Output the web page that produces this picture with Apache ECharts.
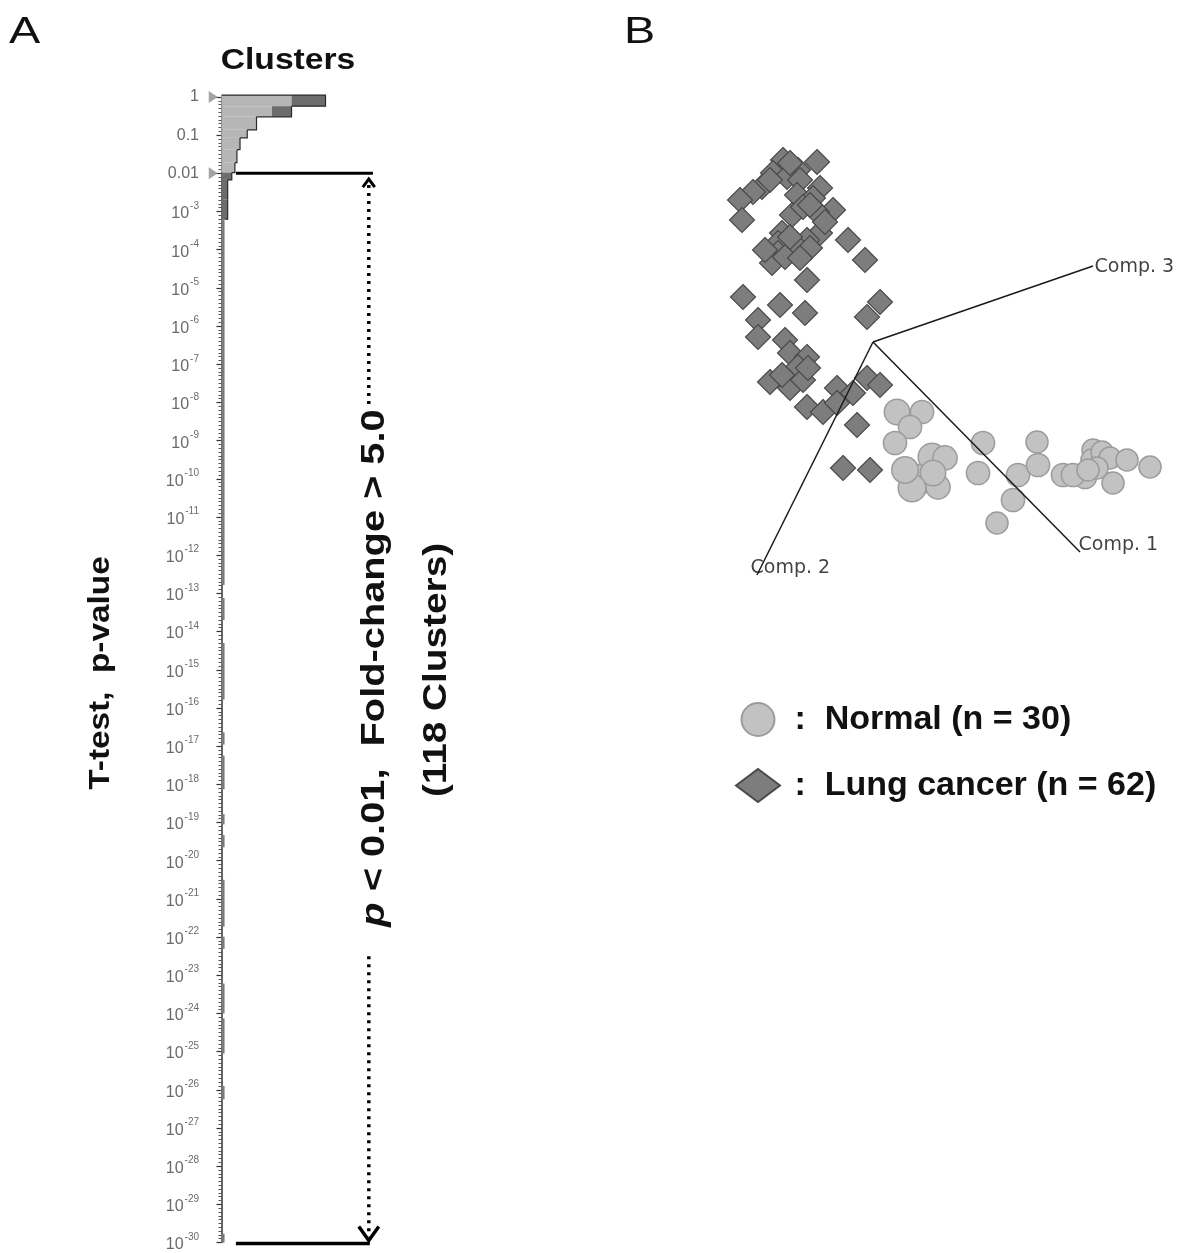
<!DOCTYPE html>
<html><head><meta charset="utf-8">
<script src="https://cdn.jsdelivr.net/npm/echarts@6/dist/echarts.min.js"></script>
<style>html,body{margin:0;padding:0;background:#fff}#c{width:1185px;height:1253px}</style>
</head><body><div id="c"></div>
<script>
// ---------- Panel A : histogram of T-test p-values (log10 p bins) ----------
const binUpper = [0.05, -0.24, -0.52, -0.86, -1.07, -1.38, -1.72, -1.98, -2.17, -2.69, -3.2, -13.12, -14.3, -16.64, -17.25, -18.78, -19.33, -20.5, -21.99, -23.22, -24.13, -25.9, -29.77];
const binLower = [-0.24, -0.52, -0.86, -1.07, -1.38, -1.72, -1.98, -2.17, -2.69, -3.2, -12.78, -13.7, -15.78, -16.96, -18.13, -19.05, -19.65, -21.73, -22.31, -24.0, -25.05, -26.25, -30];
const lightCounts = [68, 49, 34, 25, 18, 15, 13, 0, 0, 0, 0, 0, 0, 0, 0, 0, 0, 0, 0, 0, 0, 0, 0];
const darkCounts  = [33, 19, 0, 0, 0, 0, 0, 10, 6, 6, 3, 3, 3, 3, 3, 3, 3, 3, 3, 3, 3, 3, 3];
const markerLogs = [0, -2];          // grey triangles at p = 1 and p = 0.01
const thresholdLog = -2;             // p < 0.01
const minLog = -30, maxLog = 0;      // axis range 10^-30 .. 1
const tickLabelsTop = {'0': '1', '-1': '0.1', '-2': '0.01'};

// ---------- Panel B : 3D PCA projection ----------
const normalPoints = [
  [0.48,-1.40,0.4],[0.98,-1.40,0.2],[0.74,-1.70,0.2],[0.44,-2.02,0.2],[1.18,-2.30,0.6],
  [1.44,-2.32,0.3],[0.88,-2.76,0.9],[1.30,-2.90,0.3],[1.20,-2.62,0.4],[2.20,-2.02,0.2],
  [2.10,-2.62,0.2],[2.48,-3.62,0.1],[2.80,-3.16,0.2],[2.90,-2.66,0.2],[3.28,-2.00,0.1],
  [3.30,-2.46,0.2],[3.80,-2.66,0.2],[4.24,-2.70,0.2],[4.40,-2.16,0.1],[4.38,-2.36,0.1],
  [4.58,-2.20,0.1],[4.74,-2.32,0.1],[4.80,-2.82,0.1],[5.08,-2.36,0.1],[5.54,-2.50,0.1],
  [4.48,-2.52,0.1],[4.00,-2.66,0.2],[0.78,-2.92,0.6],[4.30,-2.56,0.1],[0.64,-2.56,0.5]
];
const cancerPoints = [
  [-1.80,3.64],[-1.12,3.60],[-1.50,3.44],[-2.00,3.38],[-1.72,3.30],[-1.46,3.24],[-2.22,3.10],
  [-2.40,3.00],[-2.66,2.84],[-1.06,3.08],[-1.52,2.94],[-1.20,2.88],[-0.80,2.64],[-1.62,2.54],
  [-1.12,2.60],[-2.62,2.44],[-1.40,2.70],[-1.82,2.18],[-1.06,2.18],[-1.90,1.98],[-1.32,2.04],
  [-1.52,1.90],[-1.90,1.78],[-2.02,1.58],[-1.76,1.70],[-1.26,1.88],[-0.50,2.04],[-0.16,1.64],
  [-1.32,1.24],[-2.60,0.90],[-1.86,0.74],[-1.36,0.58],[0.14,0.80],[-0.12,0.50],[-2.30,0.44],
  [-2.30,0.10],[-1.76,0.04],[-1.66,-0.22],[-1.32,-0.30],[-1.50,-0.50],[-2.06,-0.80],[-1.66,-0.92],
  [-1.40,-0.76],[-1.32,-1.30],[-1.00,-1.40],[-0.72,-0.92],[-0.72,-1.22],[-0.40,-1.02],[-0.12,-0.72],
  [0.14,-0.86],[-0.32,-1.66],[-0.60,-2.52],[-0.06,-2.56],[-1.30,-0.52],[-1.66,3.58],[-1.26,2.74],
  [-2.16,1.84],[-1.66,2.10],[-1.46,1.68],[-0.96,2.40],[-1.82,-0.66],[-2.06,3.24]
];
const compAxes = [
  {name: 'Comp. 1', end: [4.14, -4.20]},
  {name: 'Comp. 2', end: [-2.32, -4.66]},
  {name: 'Comp. 3', end: [4.40, 1.52]}
];
const seriesNames = ['Normal (n = 30)', 'Lung cancer (n = 62)'];

// ---------- layout / style constants ----------
const annot = {lineX0: 14, lineX1: 147, bottomX1: 144, arrowX: 143, upperDots: [-2.15, -8.05], lowerDots: [-22.5, -29.95]};
const compLabelOffsets = {'Comp. 1': [-2, -7], 'Comp. 2': [-7, -7], 'Comp. 3': [1, 1]};
const FONT = '"Liberation Sans", Arial, sans-serif';
const TICK_COLOR = '#6a6a6a';

const chart = echarts.init(document.getElementById('c'), null, {renderer: 'canvas'});

function tickLabel(v) {
  const k = String(Math.round(v));
  if (tickLabelsTop[k] !== undefined) return '{p|' + tickLabelsTop[k] + '}';
  return '{b|10}{s|' + k + '}';
}

const histData = binUpper.map((u, i) => [u, binLower[i], lightCounts[i], darkCounts[i]]);

function bigText(x, y, rot, text, size, scaleX, rich) {
  return {type: 'text', x, y, rotation: rot, scaleX,
    style: {text, fontSize: size, fontWeight: 'bold', fontFamily: FONT, fill: '#111', align: 'center', verticalAlign: 'middle', rich}};
}

const option = {
  backgroundColor: '#fff',
  animation: false,
  grid: [
    {left: 205, top: 97, width: 171, height: 1150},
    {left: 700, top: 140, width: 480, height: 460}
  ],
  xAxis: [
    {gridIndex: 0, type: 'value', min: -16, max: 150, show: false},
    {gridIndex: 1, type: 'value', min: -3.46, max: 6.14, show: false}
  ],
  yAxis: [
    {gridIndex: 0, type: 'value', min: minLog, max: maxLog, interval: 1,
     axisLine: {show: true, lineStyle: {color: '#333', width: 1.5}},
     axisTick: {show: true, length: 5, lineStyle: {color: '#333', width: 1.2}},
     minorTick: {show: true, splitNumber: 10, length: 3, lineStyle: {color: '#555'}},
     splitLine: {show: false},
     axisLabel: {margin: 6, color: TICK_COLOR, fontSize: 16, fontFamily: FONT,
       formatter: tickLabel,
       rich: {p: {fontSize: 16, color: TICK_COLOR, fontFamily: FONT},
              b: {fontSize: 16, color: TICK_COLOR, fontFamily: FONT, lineHeight: 21, verticalAlign: 'bottom'},
              s: {fontSize: 10, color: TICK_COLOR, fontFamily: FONT, lineHeight: 21, verticalAlign: 'top', padding: [0, 0, 0, 1]}}}
    },
    {gridIndex: 1, type: 'value', min: -5.16, max: 4.04, show: false}
  ],
  legend: {
    data: [seriesNames[0], {name: seriesNames[1], icon: 'path://M0,15 L20,0 L40,15 L20,30 Z'}],
    orient: 'vertical', left: 730, top: 697,
    itemWidth: 44, itemHeight: 33, itemGap: 31,
    formatter: n => ' :  ' + n,
    textStyle: {fontSize: 34, fontWeight: 'bold', color: '#111', fontFamily: FONT}
  },
  graphic: [
    {type: 'text', left: 9, top: 15, scaleX: 1.3, style: {text: 'A', fontSize: 36, fontFamily: FONT, fill: '#111'}},
    {type: 'text', left: 624, top: 15, scaleX: 1.3, style: {text: 'B', fontSize: 36, fontFamily: FONT, fill: '#111'}},
    bigText(288, 61, 0, 'Clusters', 29, 1.16),
    bigText(101, 673, Math.PI / 2, 'T-test,  p-value', 29, 1.15),
    bigText(375, 668, Math.PI / 2, '{i|p} < 0.01,  Fold-change > 5.0', 34, 1.17,
      {i: {fontStyle: 'italic', fontSize: 34, fontWeight: 'bold', fontFamily: FONT, fill: '#111'}}),
    bigText(437, 670, Math.PI / 2, '(118 Clusters)', 34, 1.14)
  ],
  series: [
    {
      type: 'custom', xAxisIndex: 0, yAxisIndex: 0, silent: true, clip: false,
      data: histData,
      renderItem: (params, api) => {
        const i = params.dataIndex;
        const up = api.value(0), lo = api.value(1), light = api.value(2), dark = api.value(3);
        const total = light + dark;
        const a = api.coord([0, up]);
        const b = api.coord([light, lo]);
        const c = api.coord([total, lo]);
        const children = [];
        if (light > 0) children.push({type: 'rect', shape: {x: a[0], y: a[1], width: b[0] - a[0], height: b[1] - a[1]}, style: {fill: '#b6b6b6'}});
        if (dark > 0) children.push({type: 'rect', shape: {x: b[0], y: a[1], width: c[0] - b[0], height: b[1] - a[1]}, style: {fill: i < 10 ? '#6c6c6c' : '#7a7a7a'}});
        if (i < 10) {
          const pts = [];
          if (i === 0) pts.push(api.coord([0, up]));
          pts.push(api.coord([total, up]));
          pts.push(api.coord([total, lo]));
          if (i + 1 < 11) pts.push(api.coord([lightCounts[i + 1] + darkCounts[i + 1], lo]));
          children.push({type: 'polyline', shape: {points: pts}, style: {stroke: '#2a2a2a', lineWidth: 1.2, fill: null}});
        }
        return {type: 'group', children};
      },
      markLine: {
        silent: true, symbol: 'none', animation: false,
        lineStyle: {color: '#555', width: 1.5, type: 'solid'}, label: {show: false},
        data: [[{coord: [0, maxLog + 0.05]}, {coord: [0, minLog]}]]
      }
    },
    {
      type: 'scatter', xAxisIndex: 0, yAxisIndex: 0, silent: true, clip: false,
      data: markerLogs.map(v => [-8, v]),
      symbol: 'triangle', symbolRotate: -90, symbolSize: [12, 9],
      itemStyle: {color: '#8c8c8c'}
    },
    {
      type: 'custom', xAxisIndex: 0, yAxisIndex: 0, silent: true, clip: false,
      data: [[0, 0]],
      renderItem: (params, api) => {
        const t0 = api.coord([annot.lineX0, thresholdLog]), t1 = api.coord([annot.lineX1, thresholdLog]);
        const m0 = api.coord([annot.lineX0, minLog]), m1 = api.coord([annot.bottomX1, minLog]);
        const u0 = api.coord([annot.arrowX, annot.upperDots[0]]), u1 = api.coord([annot.arrowX, annot.upperDots[1]]);
        const l0 = api.coord([annot.arrowX, annot.lowerDots[0]]), l1 = api.coord([annot.arrowX, annot.lowerDots[1]]);
        const dot = {stroke: '#000', lineWidth: 3.5, lineDash: [3, 5]};
        return {type: 'group', children: [
          {type: 'line', shape: {x1: t0[0], y1: t0[1], x2: t1[0], y2: t1[1]}, style: {stroke: '#000', lineWidth: 3}},
          {type: 'line', shape: {x1: m0[0], y1: m0[1] + 1, x2: m1[0], y2: m1[1] + 1}, style: {stroke: '#000', lineWidth: 3.5}},
          {type: 'line', shape: {x1: u0[0], y1: u0[1] + 6, x2: u1[0], y2: u1[1]}, style: dot},
          {type: 'line', shape: {x1: l0[0], y1: l0[1], x2: l1[0], y2: l1[1] - 4}, style: dot},
          {type: 'polyline', shape: {points: [[u0[0] - 6, u0[1] + 8], [u0[0], u0[1]], [u0[0] + 6, u0[1] + 8]]}, style: {stroke: '#000', lineWidth: 3, fill: null}},
          {type: 'polyline', shape: {points: [[l1[0] - 10, l1[1] - 14], [l1[0], l1[1]], [l1[0] + 10, l1[1] - 14]]}, style: {stroke: '#000', lineWidth: 3.5, fill: null}}
        ]};
      }
    },
    {
      name: seriesNames[1], type: 'scatter', xAxisIndex: 1, yAxisIndex: 1, z: 2,
      data: cancerPoints, symbol: 'diamond', symbolSize: 25,
      itemStyle: {color: '#7d7d7d', borderColor: '#4a4a4a', borderWidth: 1.2, opacity: 1}
    },
    {
      name: seriesNames[0], type: 'scatter', xAxisIndex: 1, yAxisIndex: 1, z: 3,
      data: normalPoints, symbol: 'circle', symbolSize: d => 21 + 11 * d[2],
      itemStyle: {color: '#c2c2c2', borderColor: '#9c9c9c', borderWidth: 1.5, opacity: 1}
    },
    ...compAxes.map(ax => ({
      type: 'line', xAxisIndex: 1, yAxisIndex: 1, z: 5, silent: true, symbol: 'none',
      lineStyle: {color: '#1a1a1a', width: 1.5},
      data: [[0, 0], ax.end]
    })),
    {
      type: 'scatter', xAxisIndex: 1, yAxisIndex: 1, z: 6, silent: true,
      symbolSize: 1, itemStyle: {color: 'rgba(0,0,0,0)'},
      data: compAxes.map(ax => ({name: ax.name, value: ax.end, label: {offset: compLabelOffsets[ax.name]}})),
      label: {show: true, position: 'right', distance: 0, formatter: p => p.name,
        fontSize: 19, fontFamily: '"DejaVu Sans", Verdana, sans-serif', color: '#111'}
    }
  ]
};
chart.setOption(option);
</script>
</body></html>
